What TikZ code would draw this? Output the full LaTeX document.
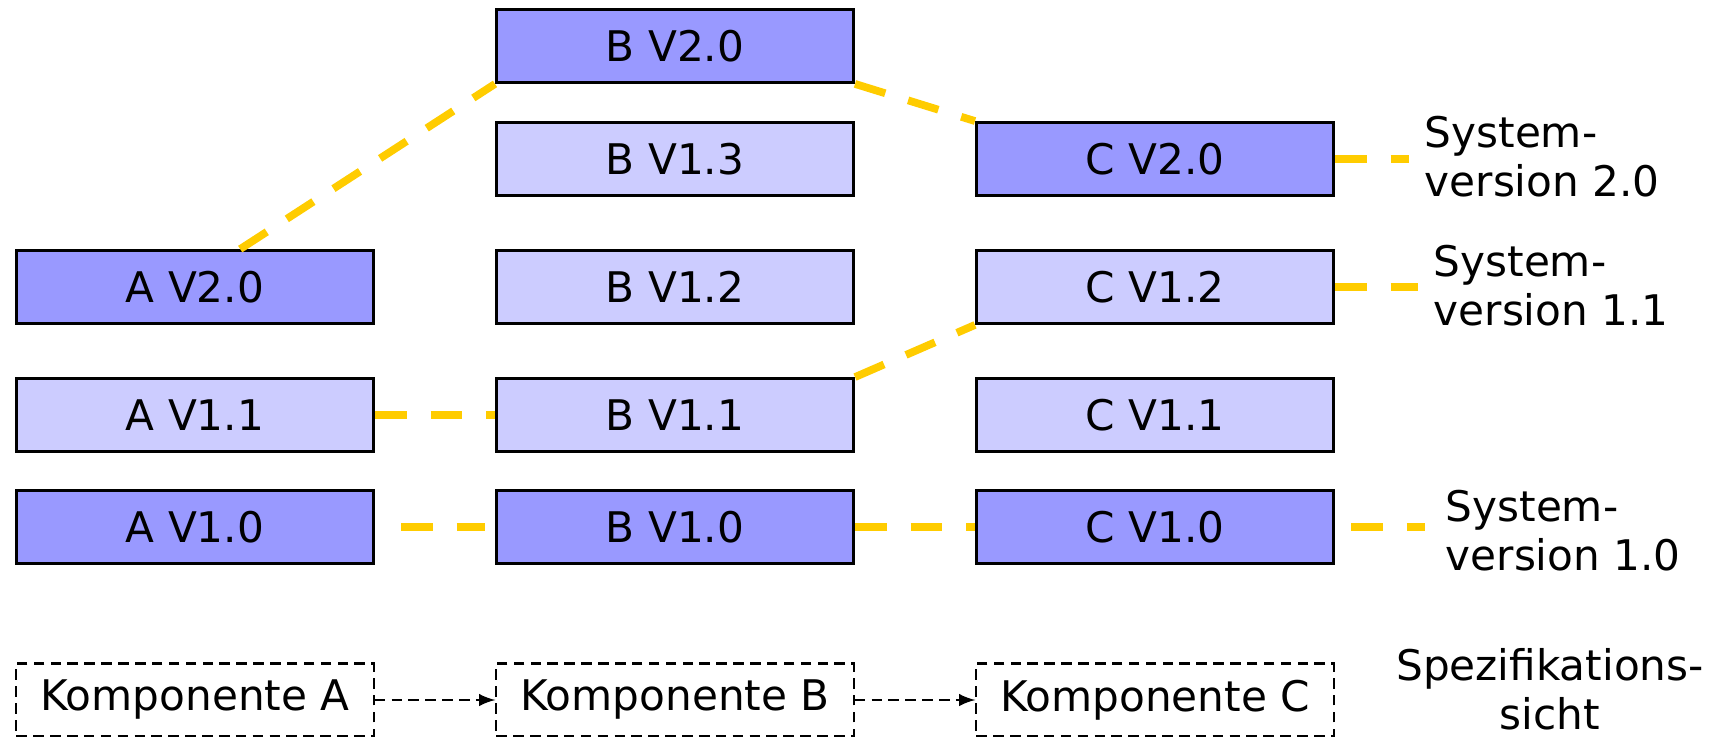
\documentclass[tikz,border=0pt]{standalone}
\usepackage{fontspec}
\setmainfont{DejaVu Sans}
\usetikzlibrary{arrows,
  calc,
  positioning
}
\definecolor{newver}{HTML}{9999FF}
\definecolor{oldver}{HTML}{CCCCFF}
\definecolor{sysyellow}{HTML}{FFCC00}
\def\boxwidth{3.57cm}
\def\boxheight{0.73cm}

\tikzset{
  version/.style={draw, line width=0.8pt, minimum width=\boxwidth, minimum height=\boxheight, inner sep=0, font=\fontsize{12}{14}\selectfont},
  released/.style={version, fill=newver},
  interim/.style={version, fill=oldver},
  specbox/.style={version, line width=0.6pt, dash pattern=on 3pt off 1.8pt, fill=white},
  sysline/.style={sysyellow, line width=2.2pt, dash pattern=on 9pt off 6.8pt},
  syslabel/.style={anchor=west, align=left, inner sep=0, font=\fontsize{12}{14}\selectfont}
}

\begin{document}
\begin{tikzpicture}[x=0.01cm, y=-0.01cm]
  \useasboundingbox (0,0) rectangle (1722,737);

  % Komponente A
  \node[released] (A20) at (195,287) {A V2.0};
  \node[interim] (A11) at (195,415) {A V1.1};
  \node[released] (A10) at (195,527) {A V1.0};

  % Komponente B
  \node[released] (B20) at (675,46) {B V2.0};
  \node[interim] (B13) at (675,159) {B V1.3};
  \node[interim] (B12) at (675,287) {B V1.2};
  \node[interim] (B11) at (675,415) {B V1.1};
  \node[released] (B10) at (675,527) {B V1.0};

  % Komponente C
  \node[released] (C20) at (1155,159) {C V2.0};
  \node[interim] (C12) at (1155,287) {C V1.2};
  \node[interim] (C11) at (1155,415) {C V1.1};
  \node[released] (C10) at (1155,527) {C V1.0};

  % Systemversionen
  \node[syslabel] (sys20) at (1424,157) {System-\\version 2.0};
  \node[syslabel] (sys11) at (1433,286) {System-\\version 1.1};
  \node[syslabel] (sys10) at (1445,531) {System-\\version 1.0};

  \draw[sysline] (A20.40) -- (B20.south west);
  \draw[sysline] (B20.south east) -- (C20.north west);
  \draw[sysline, shorten >=0.15cm] (C20.east) -- (C20.east -| sys20.west);

  \draw[sysline] (A11.east) -- (B11.west);
  \draw[sysline] (B11.north east) -- (C12.south west);
  \draw[sysline, shorten >=0.15cm] (C12.east) -- (C12.east -| sys11.west);

  \draw[sysline, shorten <=0.26cm, shorten >=0.1cm] (A10.east) -- (B10.west);
  \draw[sysline] (B10.east) -- (C10.west);
  \draw[sysline, shorten <=0.16cm, shorten >=0.2cm] (C10.east) -- (C10.east -| sys10.west);

  % Spezifikationssicht
  \node[specbox] (KA) at (195,700) {Komponente A};
  \node[specbox] (KB) at (675,700) {Komponente B};
  \node[specbox] (KC) at (1155,700) {Komponente C};
  \node[align=center, inner sep=0, font=\fontsize{12}{14}\selectfont] (spec) at (1550,689) {Spezifikations-\\sicht};

  \draw[->, >=latex, dash pattern=on 3pt off 1.8pt, line width=0.6pt] (KA.east) -- (KB.west);
  \draw[->, >=latex, dash pattern=on 3pt off 1.8pt, line width=0.6pt] (KB.east) -- (KC.west);
\end{tikzpicture}
\end{document}
